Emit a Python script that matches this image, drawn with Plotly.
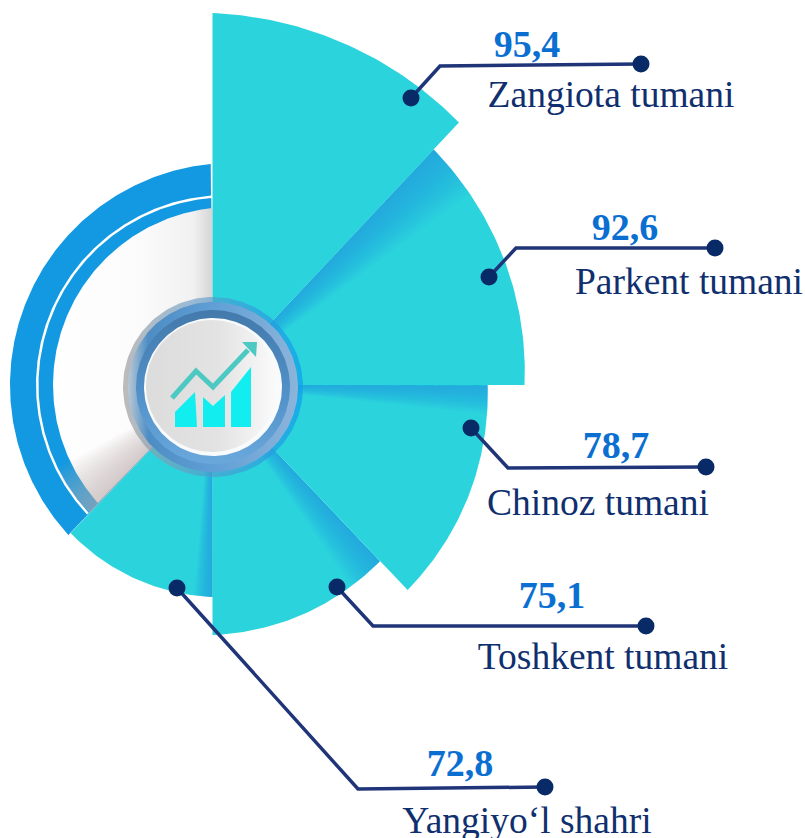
import numpy as np
import plotly.graph_objects as go

# ---- data ----
districts = ["Zangiota tumani", "Parkent tumani", "Chinoz tumani", "Toshkent tumani", "Yangiyo‘l shahri"]
values = [95.4, 92.6, 78.7, 75.1, 72.8]
# drawn sector extents, degrees clockwise from 12 o'clock, and drawn lengths
sector_start = [0.0, 43.2, 90.0, 136.4, 180.0]
sector_end = [43.2, 90.0, 136.4, 180.0, 223.8]
length_start = [372, 323, 275, 243, 212]
length_end = [360, 312, 283, 250, 205]

# ---- layout constants ----
W, H = 805, 838
CX, CY = 212.5, 385
TEAL = "#2bd4dd"
SHADE = [None, (43.2, 10), (90.0, 6), (136.4, 9), (180.0, 5)]
leader_start = [(411, 98), (489, 277), (471, 428), (337, 587), (177, 588)]
leader_elbow = [(440, 66), (516, 248), (508, 468), (373, 626), (358, 789)]
leader_end = [(641, 64), (715, 248), (706, 467), (646, 626), (545, 787)]
value_pos = [(527, 47), (625, 230), (616, 448), (552, 598), (460, 766)]
label_pos = [(611, 98), (689, 285), (598, 506), (603, 660), (527, 824)]

fig = go.Figure()


def poly(x, y, color=None, gradient=None):
    kw = dict(x=x, y=y, mode="lines", fill="toself", line=dict(width=0),
              hoverinfo="skip", showlegend=False)
    if gradient:
        kw["fillgradient"] = gradient
    else:
        kw["fillcolor"] = color
    fig.add_trace(go.Scatter(**kw))


def wedge(a0, a1, radius):
    a = np.linspace(a0, a1, 60)
    r = radius(a) if callable(radius) else np.full_like(a, radius)
    t = np.radians(a)
    x = np.r_[CX, CX + r * np.sin(t), CX]
    y = np.r_[CY, CY - r * np.cos(t), CY]
    return x, y


def left_disc(cx, r, stop=223.8):
    """Part of a circle centred at (cx, CY) left of the vertical, ending at the last sector."""
    t = np.radians(np.linspace(0, 360, 721))
    x, y = cx + r * np.sin(t), CY - r * np.cos(t)
    ang = np.degrees(np.arctan2(x - CX, CY - y)) % 360
    m = (ang >= stop) & (x <= CX + 0.1)
    xs, ys, angs = x[m], y[m], ang[m]
    order = np.argsort(angs)
    return np.r_[CX, xs[order], CX], np.r_[CY, ys[order], CY]


def circle(cx, cy, r):
    t = np.linspace(0, 2 * np.pi, 181)
    return cx + r * np.cos(t), cy + r * np.sin(t)


def fade(edge, span, radius, rgb, strength, n=14):
    """Soft shadow: overlapping wedges that build up towards the edge."""
    a = 1 - (1 - strength) ** (1 / n)
    for k in range(n, 0, -1):
        poly(*wedge(edge, edge + span * k / n, radius), color=f"rgba({rgb},{a:.4f})")


# ---- backing rings ----
poly(*left_disc(232, 222), color="#1299e2")
poly(*left_disc(226, 190), color="#ffffff")
poly(*left_disc(226, 187.5), color="#1299e2")
poly(*left_disc(231, 178), gradient=dict(type="horizontal", colorscale=[
    [0, "#ffffff"], [0.55, "#fbfbfb"], [0.88, "#f1f1f1"], [1, "#d4d4d4"]]))
fade(223.8, 18, 177, "185,175,170", 0.6)

# ---- sectors, back to front ----
for i in [4, 3, 2, 1, 0]:
    s, e = sector_start[i], sector_end[i]
    r0, r1 = length_start[i], length_end[i]
    rad = lambda a, s=s, e=e, r0=r0, r1=r1: r0 + (r1 - r0) * (a - s) / (e - s)
    poly(*wedge(s, e, rad), color=TEAL)
    if SHADE[i]:
        edge, span = SHADE[i]
        fade(edge, span, rad, "40,155,230", 0.7)

# ---- centre badge ----
bx, by = 213, 387
poly(*circle(bx, by, 90), gradient=dict(type="horizontal", colorscale=[
    [0, "rgba(165,165,165,0.75)"], [0.45, "rgba(90,150,200,0.6)"], [1, "rgba(15,160,235,0.75)"]]))
poly(*circle(bx, by, 85), gradient=dict(type="horizontal", colorscale=[
    [0, "#b9c8d6"], [0.12, "#4d8dc4"], [0.5, "#5f9fd6"], [1, "#8db4da"]]))
poly(*circle(bx, by, 77), gradient=dict(type="vertical", colorscale=[
    [0, "#6aa8dc"], [0.5, "#4f8fc6"], [1, "#4479ab"]]))
poly(*circle(bx, by, 69), color="#f8fafb")
poly(*circle(bx - 1, by - 1, 66), gradient=dict(type="horizontal", colorscale=[
    [0, "#dcdcdc"], [0.55, "#e3e3e3"], [1, "#fbfbfb"]]))

# icon
ICON_BARS = [
    ([175, 175, 195, 197, 175], [427, 412, 392, 427, 427]),
    ([203, 203, 213, 225, 225, 203], [427, 397, 406, 395, 427, 427]),
    ([231, 231, 251, 251, 231], [427, 392, 367, 427, 427]),
]
for bxs, bys in ICON_BARS:
    poly(bxs, bys, color="#12eef0")
fig.add_trace(go.Scatter(x=[172, 196, 213, 248], y=[398, 371, 387, 350], mode="lines",
                         line=dict(color="#4cc9c2", width=5), hoverinfo="skip", showlegend=False))
poly([242, 257, 256, 242], [342, 342, 357, 342], color="#4cc9c2")

# ---- leaders ----
for a, b, c in zip(leader_start, leader_elbow, leader_end):
    fig.add_trace(go.Scatter(x=[a[0], b[0], c[0]], y=[a[1], b[1], c[1]], mode="lines",
                             line=dict(color="#1f3578", width=3.5), hoverinfo="skip", showlegend=False))
    fig.add_trace(go.Scatter(x=[a[0], c[0]], y=[a[1], c[1]], mode="markers",
                             marker=dict(color="#082a66", size=17), hoverinfo="skip", showlegend=False))

# ---- text ----
fig.add_trace(go.Scatter(
    x=[p[0] for p in value_pos], y=[p[1] for p in value_pos], mode="text",
    text=[f"<b>{v:.1f}</b>".replace(".", ",") for v in values],
    textposition="middle center",
    textfont=dict(family="Liberation Serif", size=38, color="#0b6fd2"),
    hoverinfo="skip", showlegend=False))
fig.add_trace(go.Scatter(
    x=[p[0] for p in label_pos], y=[p[1] for p in label_pos], mode="text",
    text=districts, textposition="middle center",
    textfont=dict(family="Liberation Serif", size=37.5, color="#0f2f6e"),
    hoverinfo="skip", showlegend=False))

fig.update_layout(
    width=W, height=H, margin=dict(l=0, r=0, t=0, b=0),
    paper_bgcolor="white", plot_bgcolor="white",
    xaxis=dict(range=[0, W], visible=False, fixedrange=True),
    yaxis=dict(range=[H, 0], visible=False, fixedrange=True),
)
fig.write_html("out.html", config=dict(displayModeBar=False),
               post_script="document.body.style.margin='0';document.body.style.overflow='hidden';")
